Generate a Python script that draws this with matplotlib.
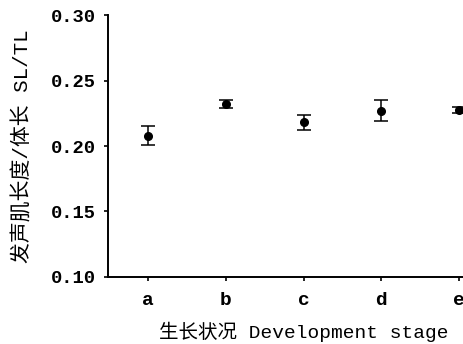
import numpy as np
import matplotlib.pyplot as plt

# SL/TL ratio by development stage (mean and error)
stages = ['a', 'b', 'c', 'd', 'e']
ratio_mean = [0.208, 0.232, 0.218, 0.227, 0.2275]
ratio_err = [0.007, 0.0033, 0.0058, 0.008, 0.0024]
y_ticks = [0.10, 0.15, 0.20, 0.25, 0.30]

mono_cjk = ['Liberation Mono', 'Noto Sans CJK SC', 'DejaVu Sans']

fig = plt.figure(figsize=(4.63, 3.44), dpi=100)
ax = fig.add_axes([0.233, 0.195, 0.775, 0.761])

x = np.arange(1, len(stages) + 1)
ax.errorbar(x, ratio_mean, yerr=ratio_err, fmt='o', color='black',
            markersize=5.5, capsize=5, elinewidth=1.1, capthick=1.1)

ax.set_xlim(0.48, 5.1)
ax.set_ylim(0.10, 0.30)
ax.set_xticks(x)
ax.set_xticklabels(stages, family=mono_cjk, fontsize=14, fontweight='bold')
ax.set_yticks(y_ticks)
ax.set_yticklabels([f'{v:.2f}' for v in y_ticks], family=mono_cjk,
                   fontsize=13.5, fontweight='bold')

for side in ('top', 'right'):
    ax.spines[side].set_visible(False)
for side in ('left', 'bottom'):
    ax.spines[side].set_linewidth(1.4)
ax.tick_params(axis='both', direction='out', length=3, width=1.2)
ax.tick_params(axis='x', pad=8)
ax.tick_params(axis='y', pad=6)

ax.set_xlabel('生长状况 Development stage', family=mono_cjk, fontsize=14, labelpad=9)
ax.xaxis.label.set_x(0.545)
ax.set_ylabel('发声肌长度/体长 SL/TL', family=mono_cjk, fontsize=15, labelpad=13)

fig.savefig('out.png', dpi=100)
